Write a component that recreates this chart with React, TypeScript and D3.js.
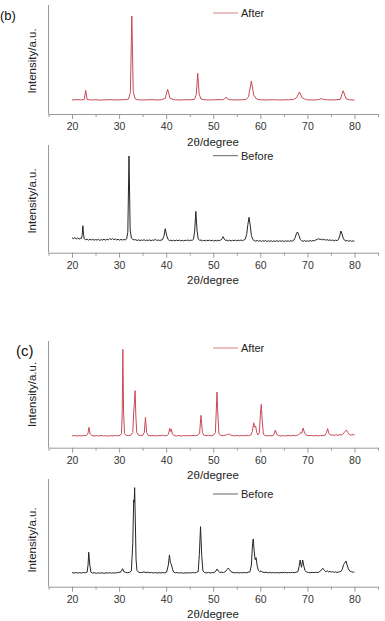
import React, { useEffect, useRef } from "react";
import * as d3 from "d3";

const W = 385;
const H = 621;

const RED = "#c94a57";
const BLACK = "#262626";
const AXIS = "#9a9a9a";
const FONT = "'Liberation Sans', Arial, sans-serif";

type Pt = [number, number];

// 2θ (degree) vs intensity (a.u.)
const afterB: Pt[] = [
  [20, 130], [21, 133], [22, 131], [22.6, 134], [22.9, 219], [23.2, 135], [24, 130], [25, 132],
  [26, 129], [27, 131], [28, 133], [29, 130], [30, 131], [31, 132], [32, 138], [32.4, 200],
  [32.7, 907], [33.0, 210], [33.4, 140], [34, 132], [35, 130], [36, 131], [37, 133], [38, 130],
  [39, 132], [39.8, 145], [40.3, 229], [40.8, 148], [41.5, 133], [42, 131], [43, 130], [44, 132],
  [45, 131], [46, 135], [46.4, 180], [46.7, 377], [47.0, 185], [47.4, 138], [48, 132], [49, 130],
  [50, 131], [51, 133], [52, 132], [52.4, 140], [52.7, 157], [53.0, 140], [53.5, 132], [54, 131],
  [55, 130], [56, 132], [57, 134], [57.5, 160], [58.1, 306], [58.6, 175], [59.2, 138], [60, 132],
  [61, 130], [62, 131], [63, 132], [64, 130], [65, 131], [66, 132], [67, 134], [67.7, 150],
  [68.3, 204], [68.9, 150], [69.6, 135], [70, 131], [71, 130], [72, 131], [72.6, 136], [73, 143],
  [73.4, 136], [74, 132], [75, 130], [76, 131], [77, 136], [77.6, 216], [78.2, 142], [79, 131],
  [80, 130],
];

const beforeB: Pt[] = [
  [20.0, 138], [20.3, 130], [20.6, 140], [20.9, 128], [21.2, 136], [21.5, 126], [21.8, 133], [22.0, 130],
  [22.15, 160], [22.3, 250], [22.45, 165], [22.6, 128], [22.9, 120], [23.2, 126], [23.5, 116], [23.8, 124],
  [24.1, 118], [24.4, 125], [24.7, 115], [25.0, 122], [25.3, 117], [25.6, 124], [25.9, 114], [26.2, 121],
  [26.5, 117], [26.8, 125], [27.1, 116], [27.4, 123], [27.7, 119], [28.0, 130], [28.3, 122], [28.6, 131],
  [28.9, 120], [29.2, 127], [29.5, 118], [29.8, 124], [30.1, 116], [30.4, 123], [30.7, 117], [31.0, 122],
  [31.3, 119], [31.6, 128], [31.85, 190], [32.1, 895], [32.35, 210], [32.6, 135], [32.9, 124], [33.2, 118],
  [33.5, 121], [33.8, 113], [34.1, 119], [34.4, 112], [34.7, 118], [35.0, 114], [35.3, 120], [35.6, 112],
  [35.9, 117], [36.2, 113], [36.5, 119], [36.8, 111], [37.1, 117], [37.4, 114], [37.7, 125], [38.0, 113],
  [38.3, 118], [38.6, 112], [38.9, 117], [39.2, 120], [39.5, 150], [39.8, 222], [40.1, 160], [40.4, 122],
  [40.7, 112], [41.0, 116], [41.3, 109], [41.6, 115], [41.9, 110], [42.2, 116], [42.5, 111], [42.8, 117],
  [43.1, 110], [43.4, 115], [43.7, 109], [44.0, 116], [44.3, 112], [44.6, 118], [44.9, 111], [45.2, 116],
  [45.5, 114], [45.8, 125], [46.05, 200], [46.3, 383], [46.55, 210], [46.8, 128], [47.1, 114], [47.4, 118],
  [47.7, 110], [48.0, 115], [48.3, 109], [48.6, 116], [48.9, 111], [49.2, 117], [49.5, 110], [49.8, 115],
  [50.1, 108], [50.4, 114], [50.7, 110], [51.0, 116], [51.3, 111], [51.6, 117], [51.85, 128], [52.1, 148],
  [52.35, 127], [52.6, 113], [52.9, 117], [53.2, 110], [53.5, 116], [53.8, 109], [54.1, 115], [54.4, 111],
  [54.7, 117], [55.0, 110], [55.3, 116], [55.6, 112], [55.9, 118], [56.2, 111], [56.5, 117], [56.8, 125],
  [57.1, 170], [57.35, 260], [57.6, 328], [57.85, 255], [58.1, 160], [58.4, 122], [58.7, 112], [59.0, 107],
  [59.3, 113], [59.6, 106], [59.9, 112], [60.2, 105], [60.5, 111], [60.8, 106], [61.1, 112], [61.4, 104],
  [61.7, 110], [62.0, 105], [62.3, 111], [62.6, 104], [62.9, 109], [63.2, 105], [63.5, 111], [63.8, 104],
  [64.1, 110], [64.4, 106], [64.7, 111], [65.0, 104], [65.3, 109], [65.6, 106], [65.9, 110], [66.2, 105],
  [66.5, 111], [66.8, 107], [67.1, 115], [67.4, 140], [67.7, 180], [67.9, 192], [68.2, 160], [68.5, 122],
  [68.8, 110], [69.1, 106], [69.4, 112], [69.7, 105], [70.0, 110], [70.3, 106], [70.6, 112], [70.9, 107],
  [71.2, 113], [71.5, 110], [71.8, 118], [72.1, 124], [72.4, 129], [72.7, 122], [73.0, 126], [73.3, 118],
  [73.6, 123], [73.9, 116], [74.2, 121], [74.5, 114], [74.8, 119], [75.1, 112], [75.4, 118], [75.7, 110],
  [76.0, 116], [76.3, 112], [76.6, 122], [76.9, 160], [77.1, 201], [77.35, 175], [77.6, 135], [77.9, 115],
  [78.2, 108], [78.5, 113], [78.8, 106], [79.1, 112], [79.4, 105], [79.7, 110], [80.0, 106],
];

const afterC: Pt[] = [
  [20, 110], [20.5, 113], [21, 108], [21.5, 112], [22, 109], [22.5, 113], [23, 111], [23.35, 125],
  [23.6, 189], [23.85, 128], [24.2, 112], [24.7, 108], [25.2, 112], [25.7, 109], [26.2, 113], [26.7, 108],
  [27.2, 111], [27.7, 107], [28.2, 112], [28.7, 109], [29.2, 113], [29.7, 110], [30.2, 114], [30.5, 130],
  [30.65, 300], [30.8, 911], [30.95, 320], [31.15, 130], [31.5, 115], [32.0, 112], [32.5, 116], [32.9, 140],
  [33.1, 321], [33.25, 420], [33.4, 528], [33.55, 300], [33.75, 140], [34.1, 116], [34.6, 112], [35.0, 115],
  [35.35, 140], [35.6, 281], [35.85, 140], [36.2, 114], [36.7, 110], [37.2, 113], [37.7, 109], [38.2, 112],
  [38.7, 111], [39.2, 115], [39.7, 110], [40.2, 113], [40.5, 125], [40.75, 180], [40.95, 150], [41.1, 170],
  [41.35, 125], [41.7, 112], [42.2, 109], [42.7, 113], [43.2, 108], [43.7, 112], [44.2, 109], [44.7, 113],
  [45.2, 110], [45.7, 114], [46.2, 111], [46.7, 115], [47.1, 135], [47.4, 300], [47.7, 140], [48.0, 116],
  [48.5, 112], [49.0, 115], [49.5, 110], [50.0, 114], [50.45, 140], [50.65, 350], [50.8, 516], [50.95, 330],
  [51.2, 130], [51.6, 115], [52.1, 112], [52.6, 116], [53.0, 122], [53.3, 127], [53.6, 120], [54.0, 113],
  [54.5, 110], [55.0, 114], [55.5, 109], [56.0, 113], [56.5, 110], [57.0, 114], [57.5, 111], [58.0, 118],
  [58.3, 150], [58.6, 231], [58.8, 190], [59.0, 201], [59.25, 140], [59.5, 118], [59.8, 140], [60.0, 300],
  [60.2, 402], [60.4, 250], [60.65, 125], [61.0, 113], [61.5, 109], [62.0, 113], [62.5, 110], [62.9, 122],
  [63.2, 164], [63.5, 122], [63.9, 112], [64.4, 108], [64.9, 112], [65.4, 109], [65.9, 113], [66.4, 110],
  [66.9, 114], [67.4, 111], [67.9, 116], [68.3, 125], [68.6, 143], [68.8, 135], [69.1, 182], [69.4, 135],
  [69.8, 116], [70.3, 111], [70.8, 114], [71.3, 110], [71.8, 113], [72.3, 109], [72.8, 113], [73.3, 111],
  [73.8, 118], [74.05, 140], [74.3, 176], [74.55, 135], [74.9, 116], [75.3, 119], [75.7, 113], [76.1, 120],
  [76.5, 114], [76.9, 122], [77.3, 118], [77.6, 128], [77.8, 139], [78.0, 150], [78.3, 164], [78.6, 140],
  [78.9, 122], [79.3, 117], [79.7, 122], [80.0, 118],
];

const beforeC: Pt[] = [
  [20, 130], [20.4, 127], [20.8, 131], [21.2, 126], [21.6, 130], [22.0, 127], [22.4, 131], [22.8, 128],
  [23.2, 135], [23.4, 200], [23.55, 319], [23.75, 210], [24.0, 135], [24.4, 126], [24.8, 129], [25.2, 124],
  [25.6, 128], [26.0, 125], [26.4, 129], [26.8, 124], [27.2, 128], [27.6, 126], [28.0, 130], [28.4, 125],
  [28.8, 129], [29.2, 126], [29.6, 131], [30.0, 133], [30.4, 138], [30.75, 167], [31.0, 140], [31.4, 132],
  [31.8, 130], [32.2, 133], [32.6, 145], [32.9, 400], [33.1, 803], [33.2, 780], [33.3, 917], [33.45, 600],
  [33.6, 250], [33.8, 150], [34.1, 135], [34.5, 130], [34.9, 133], [35.3, 136], [35.7, 131], [36.1, 134],
  [36.5, 129], [36.9, 132], [37.3, 127], [37.7, 131], [38.1, 126], [38.5, 130], [38.9, 127], [39.3, 131],
  [39.7, 128], [40.1, 135], [40.45, 200], [40.7, 294], [40.9, 220], [41.1, 210], [41.35, 160], [41.6, 135],
  [42.0, 128], [42.4, 131], [42.8, 126], [43.2, 130], [43.6, 125], [44.0, 129], [44.4, 126], [44.8, 130],
  [45.2, 127], [45.6, 131], [46.0, 128], [46.4, 132], [46.8, 140], [47.05, 300], [47.3, 556], [47.55, 290],
  [47.8, 145], [48.2, 131], [48.6, 128], [49.0, 132], [49.4, 127], [49.8, 131], [50.2, 129], [50.55, 145],
  [50.8, 164], [51.05, 145], [51.4, 132], [51.8, 135], [52.2, 131], [52.6, 140], [52.95, 160], [53.2, 173],
  [53.45, 158], [53.8, 138], [54.2, 131], [54.6, 128], [55.0, 132], [55.4, 127], [55.8, 131], [56.2, 128],
  [56.6, 132], [57.0, 129], [57.4, 133], [57.8, 138], [58.1, 200], [58.35, 400], [58.5, 442], [58.7, 330],
  [58.9, 250], [59.1, 269], [59.35, 190], [59.6, 150], [59.9, 138], [60.15, 148], [60.4, 136], [60.8, 131],
  [61.2, 134], [61.6, 129], [62.0, 133], [62.4, 128], [62.8, 132], [63.2, 127], [63.6, 131], [64.0, 128],
  [64.4, 132], [64.8, 129], [65.2, 133], [65.6, 128], [66.0, 132], [66.4, 129], [66.8, 133], [67.2, 130],
  [67.6, 134], [68.0, 140], [68.25, 190], [68.45, 247], [68.75, 180], [69.0, 247], [69.25, 190], [69.5, 150],
  [69.8, 136], [70.2, 132], [70.6, 129], [71.0, 133], [71.4, 130], [71.8, 134], [72.2, 131], [72.6, 138],
  [72.95, 155], [73.3, 170], [73.6, 150], [73.9, 138], [74.2, 148], [74.5, 136], [74.8, 143], [75.1, 134],
  [75.4, 140], [75.7, 133], [76.0, 138], [76.3, 132], [76.7, 137], [77.1, 140], [77.4, 160], [77.7, 205],
  [77.9, 217], [78.05, 228], [78.2, 238], [78.45, 200], [78.7, 165], [79.0, 145], [79.4, 138], [79.8, 134],
  [80.0, 135],
];

const xDomain: [number, number] = [15, 85];
const majorTicks = [20, 30, 40, 50, 60, 70, 80];
const minorTicks = [15, 25, 35, 45, 55, 65, 75, 85];
const yDomain: [number, number] = [0, 1000];

const panels = [
  { tag: "(b)", tagSize: 13, tagX: 0, tagY: 20, name: "After", color: RED, data: afterB, top: 5, axisY: 114, legendY: 13, labelY: 61 },
  { tag: "", tagSize: 13, tagX: 0, tagY: 0, name: "Before", color: BLACK, data: beforeB, top: 145, axisY: 252.7, legendY: 155.7, labelY: 201 },
  { tag: "(c)", tagSize: 15, tagX: 16, tagY: 356, name: "After", color: RED, data: afterC, top: 341, axisY: 447.7, legendY: 348, labelY: 394.5 },
  { tag: "", tagSize: 13, tagX: 0, tagY: 0, name: "Before", color: BLACK, data: beforeC, top: 479, axisY: 586.7, legendY: 494, labelY: 540 },
];

export default function App() {
  const ref = useRef<SVGSVGElement>(null);

  useEffect(() => {
    const svg = d3.select(ref.current);
    svg.selectAll("*").remove();

    const x = d3.scaleLinear().domain(xDomain).range([48.5, 378]);

    panels.forEach((p) => {
      const y = d3.scaleLinear().domain(yDomain).range([p.axisY, p.axisY - 108]);
      const g = svg.append("g");

      // y axis line only, no ticks
      g.append("line")
        .attr("x1", 48.5).attr("x2", 48.5)
        .attr("y1", p.top).attr("y2", p.axisY)
        .attr("stroke", AXIS).attr("stroke-width", 1);

      const minor = g.append("g")
        .attr("transform", `translate(0,${p.axisY})`)
        .call(d3.axisBottom(x).tickValues(minorTicks).tickSize(3).tickSizeOuter(0).tickFormat(() => ""));
      minor.select(".domain").remove();
      minor.selectAll("line").attr("stroke", AXIS);

      const major = g.append("g")
        .attr("transform", `translate(0,${p.axisY})`)
        .call(d3.axisBottom(x).tickValues(majorTicks).tickSize(5).tickSizeOuter(0).tickPadding(4));
      major.select(".domain").attr("stroke", AXIS);
      major.selectAll("line").attr("stroke", AXIS);
      major.selectAll("text")
        .attr("fill", "#333")
        .style("font", `10.5px ${FONT}`);

      g.append("path")
        .datum(p.data)
        .attr("fill", "none")
        .attr("stroke", p.color)
        .attr("stroke-width", 1)
        .attr("stroke-linejoin", "round")
        .attr("d", d3.line<Pt>().x((d) => x(d[0])).y((d) => y(d[1])));

      // legend
      g.append("line")
        .attr("x1", 213).attr("x2", 238)
        .attr("y1", p.legendY).attr("y2", p.legendY)
        .attr("stroke", p.color).attr("stroke-width", 1).attr("opacity", 0.7);
      g.append("text")
        .attr("x", 241).attr("y", p.legendY + 4)
        .attr("fill", "#222")
        .style("font", `11px ${FONT}`)
        .text(p.name);

      // axis titles
      g.append("text")
        .attr("text-anchor", "middle")
        .attr("x", 213).attr("y", p.axisY + 31.5)
        .attr("fill", "#222")
        .style("font", `11.5px ${FONT}`)
        .text("2θ/degree");

      g.append("text")
        .attr("text-anchor", "middle")
        .attr("transform", `translate(36,${p.labelY})rotate(-90)`)
        .attr("fill", "#222")
        .style("font", `11.5px ${FONT}`)
        .text("Intensity/a.u.");

      if (p.tag) {
        g.append("text")
          .attr("x", p.tagX).attr("y", p.tagY)
          .attr("fill", "#111")
          .style("font", `${p.tagSize}px ${FONT}`)
          .text(p.tag);
      }
    });
  }, []);

  return (
    <svg
      ref={ref}
      width={W}
      height={H}
      style={{ position: "absolute", left: 0, top: 0, background: "#fff" }}
    />
  );
}
